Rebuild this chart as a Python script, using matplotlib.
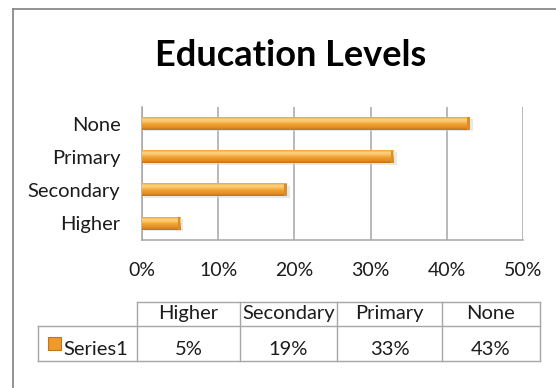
import numpy as np
import matplotlib.pyplot as plt
from matplotlib.colors import LinearSegmentedColormap
from matplotlib.patches import Rectangle

categories = ["Higher", "Secondary", "Primary", "None"]
shares = [0.05, 0.19, 0.33, 0.43]
series_name = "Series1"
share_labels = ["5%", "19%", "33%", "43%"]
xticks = [0.0, 0.1, 0.2, 0.3, 0.4, 0.5]

plt.rcParams['font.family'] = ['Lato', 'DejaVu Sans']
text_color = "#1c1c1c"
grid_color = "#a6a6a6"

# vertical shading of the orange bars: rim, highlight, body, dark base
bar_cmap = LinearSegmentedColormap.from_list(
    "bar", [(0.0, "#f2a43a"), (0.18, "#fcd27e"), (0.35, "#f9c466"),
            (0.55, "#f1a033"), (0.85, "#e08a22"), (1.0, "#c27019")])

W, H = 556, 388
fig = plt.figure(figsize=(W / 100, H / 100), dpi=100)

# full-figure axes in pixel units for the frame and the data table
frame = fig.add_axes([0, 0, 1, 1])
frame.set_xlim(0, W)
frame.set_ylim(H, 0)
frame.axis("off")
frame.plot([12.5, W], [8.5, 8.5], color="#808080", lw=1.2)
frame.plot([12.5, 12.5], [8.5, H], color="#808080", lw=1.2)

fig.text(291 / W, 1 - 56 / H, "Education Levels", ha="center", va="center",
         fontsize=26, fontweight="bold", color="black")

ax = fig.add_axes([142 / W, 1 - 240 / H, (523 - 142) / W, (240 - 107) / H])
ax.set_xlim(0, 0.5)
ax.set_ylim(-0.5, len(categories) - 0.5)

bar_h = 0.37
for i, v in enumerate(shares):
    # soft shadow under each bar
    ax.add_patch(Rectangle((0.002, i - bar_h / 2 - 0.05), v + 0.002, bar_h,
                           color="#d9d9d9", alpha=0.6, lw=0, zorder=2))
    grad = np.linspace(0, 1, 40).reshape(-1, 1)
    ax.imshow(grad, cmap=bar_cmap, aspect="auto", zorder=3,
              extent=(0, v, i - bar_h / 2, i + bar_h / 2), origin="upper")
    # darker rounded end cap
    ax.add_patch(Rectangle((v - 0.003, i - bar_h / 2), 0.003, bar_h,
                           color="#dc8c2a", lw=0, zorder=4))

ax.set_xticks(xticks)
ax.set_xticklabels([f"{int(round(t * 100))}%" for t in xticks])
ax.set_yticks(range(len(categories)))
ax.set_yticklabels(categories)
ax.tick_params(length=0, colors=text_color)
ax.tick_params(axis="x", pad=15.5, labelsize=14)
ax.tick_params(axis="y", pad=15.5, labelsize=14.5)
ax.grid(axis="x", color=grid_color, lw=1.1)
ax.set_axisbelow(True)
for side in ("top", "right"):
    ax.spines[side].set_visible(False)
for side in ("left", "bottom"):
    ax.spines[side].set_color(grid_color)
    ax.spines[side].set_linewidth(1.1)

# data table: row-label column, then one column per category
col_edges = [38, 137, 240, 337, 442, 540]
row_top, row_mid, row_bot = 302, 326, 361
tl = dict(color=grid_color, lw=1.0)
frame.plot([col_edges[1], col_edges[-1]], [row_top, row_top], **tl)
frame.plot([col_edges[0], col_edges[-1]], [row_mid, row_mid], **tl)
frame.plot([col_edges[0], col_edges[-1]], [row_bot, row_bot], **tl)
frame.plot([col_edges[0], col_edges[0]], [row_mid, row_bot], **tl)
for xe in col_edges[1:]:
    frame.plot([xe, xe], [row_top, row_bot], **tl)

for k, (name, lab) in enumerate(zip(categories, share_labels)):
    cx = (col_edges[k + 1] + col_edges[k + 2]) / 2
    frame.text(cx, 319, name, ha="center", va="baseline",
               fontsize=14.5, color=text_color)
    frame.text(cx, 355, lab, ha="center", va="baseline",
               fontsize=14.5, color=text_color)
frame.text(col_edges[1] - 9, 355, series_name, ha="right", va="baseline",
           fontsize=14.5, color=text_color)

# legend key in front of the series name
frame.add_patch(Rectangle((48, 337), 13, 13, facecolor="#ee9a2e",
                          edgecolor="#c67418", lw=0.8))

fig.savefig("out.png", dpi=100)
